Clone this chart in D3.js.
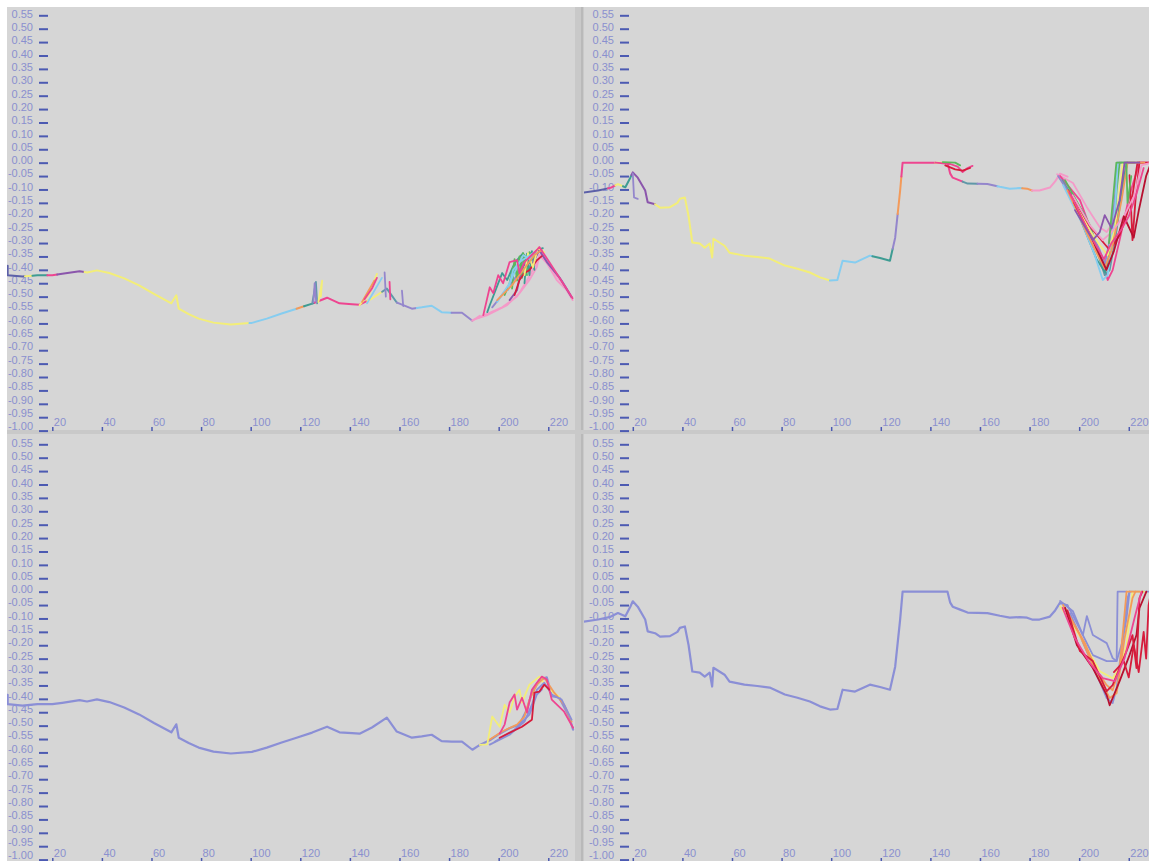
<!DOCTYPE html>
<html>
<head>
<meta charset="utf-8">
<script src="https://cdn.jsdelivr.net/npm/d3@7"></script>
<style>
  html, body { margin: 0; padding: 0; background: #ffffff; }
  svg { display: block; }
</style>
</head>
<body>
<script>
// ---------- axis ticks ----------
const xTicks = [20, 40, 60, 80, 100, 120, 140, 160, 180, 200, 220];
const yTicks = [0.55, 0.50, 0.45, 0.40, 0.35, 0.30, 0.25, 0.20, 0.15, 0.10, 0.05, 0.00,
  -0.05, -0.10, -0.15, -0.20, -0.25, -0.30, -0.35, -0.40, -0.45, -0.50, -0.55, -0.60,
  -0.65, -0.70, -0.75, -0.80, -0.85, -0.90, -0.95, -1.00];

// ---------- cluster ids and their colours ----------
const clusterIds = ["slate", "yellow", "teal", "pink", "purple", "cyan", "orange",
  "lavender", "rose", "green", "red", "steel", "blue", "crimson"];
const clusterColors = ["#5c60a8", "#f3ee78", "#3e9c93", "#ee4590", "#8b56ac", "#86cdf0", "#f39a5a",
  "#9486cc", "#f49ac8", "#5cb85c", "#d61c3c", "#5f98a8", "#8b8fd6", "#b81030"];

// ---------- left column: main trajectory ----------
const baseL = [[2,-0.385],[2,-0.42],[8,-0.425],[14,-0.42],[20,-0.42],[24,-0.415],[31,-0.405],[34,-0.41],
  [38,-0.402],[43,-0.412],[49,-0.432],[55,-0.458],[61,-0.49],[68,-0.525],[70,-0.495],[71,-0.545],
  [75,-0.565],[79,-0.582],[85,-0.597],[92,-0.604],[100.5,-0.598],[106.5,-0.582],[112.5,-0.563],
  [118.5,-0.545],[124.8,-0.526],[130.8,-0.504],[135.8,-0.525],[140.9,-0.528],[143.9,-0.53],
  [148.9,-0.507],[154.9,-0.47],[158.9,-0.522],[165,-0.545],[169,-0.54],[173,-0.534],[177,-0.558],
  [181,-0.56],[185.2,-0.56],[189.4,-0.59],[192.4,-0.572],[196.4,-0.555],[200.4,-0.53],[204.4,-0.51],
  [208.4,-0.496],[211.4,-0.44],[213.4,-0.377],[216.4,-0.33],[219.4,-0.32],[221.4,-0.39],[224.4,-0.395],
  [228.4,-0.466],[230,-0.515]];

// cluster membership along the left trajectory: [from x, to x, cluster]
const segL = [[0,9,"slate"],[9,12,"yellow"],[12,18,"teal"],[18,22,"pink"],[22,33,"purple"],
  [33,99.5,"yellow"],[99.5,118.5,"cyan"],[118.5,121.5,"orange"],[121.5,125.7,"teal"],[125.7,147,"pink"],
  [147,153,"yellow"],[153,159,"steel"],[159,167,"lavender"],[167,181,"cyan"],[181,189.4,"lavender"],
  [189.4,231,"rose"]];

// side branches of the left trajectory, per cluster
const branchTL = [
  ["steel", [[124.8,-0.526],[126.3,-0.445],[126.8,-0.525]]],
  ["yellow", [[127.3,-0.52],[128.8,-0.44],[128.3,-0.5]]],
  ["lavender", [[125.3,-0.52],[125.8,-0.45],[126.4,-0.52]]],
  ["yellow", [[143.9,-0.532],[147.9,-0.49],[150.9,-0.415]]],
  ["orange", [[144.9,-0.52],[149.9,-0.44]]],
  ["cyan", [[146.9,-0.525],[152.9,-0.43]]],
  ["pink", [[145.9,-0.51],[148.9,-0.47],[150.9,-0.43]]],
  ["lavender", [[154,-0.41],[154.5,-0.5]]],
  ["pink", [[156,-0.445],[156.3,-0.51]]],
  ["lavender", [[161,-0.478],[161.5,-0.535]]],
  ["rose", [[189.4,-0.588],[195.4,-0.569],[203.4,-0.532],[208.4,-0.487],[212.4,-0.438],[215.4,-0.39],
    [216.4,-0.345],[219.4,-0.375],[223.4,-0.438],[227.4,-0.476],[229.8,-0.513]]],
  ["rose", [[191.4,-0.58],[201.4,-0.54],[207.4,-0.5],[211.4,-0.44],[214.4,-0.39],[217.4,-0.34],
    [221.4,-0.4],[227.4,-0.47]]],
  ["lavender", [[197.4,-0.54],[203.4,-0.47],[207.4,-0.42],[210.4,-0.36],[213.4,-0.35],[216.4,-0.33],
    [220.4,-0.38],[225.4,-0.44],[229.4,-0.5]]],
  ["teal", [[195.4,-0.558],[196.4,-0.532],[201.4,-0.412],[203.4,-0.438],[206.4,-0.375],[209.8,-0.338],
    [212.4,-0.375],[215.4,-0.326],[217.8,-0.319]]],
  ["green", [[202.4,-0.494],[204.4,-0.45],[205.8,-0.39],[208.4,-0.427],[209.8,-0.338],[211.4,-0.401],
    [212.4,-0.334],[214.4,-0.356],[216.4,-0.326]]],
  ["green", [[205.4,-0.47],[206.4,-0.36],[207.4,-0.44],[208.4,-0.35],[209.4,-0.43],[210.4,-0.345],[211.4,-0.42]]],
  ["teal", [[210.4,-0.45],[211.4,-0.34],[212.4,-0.42],[213.4,-0.33],[214.4,-0.4]]],
  ["purple", [[204.4,-0.513],[207.4,-0.476],[209.4,-0.39],[211.4,-0.371],[213.8,-0.375],[216.4,-0.326],
    [219.4,-0.371],[224.4,-0.427],[229.4,-0.502]]],
  ["red", [[206.4,-0.494],[208.4,-0.438],[210.4,-0.412],[212.4,-0.401],[215.4,-0.364],[217.4,-0.349]]],
  ["yellow", [[210.4,-0.42],[211.8,-0.338],[213.8,-0.39],[215.8,-0.319],[218.4,-0.334]]],
  ["cyan", [[203.8,-0.476],[205.8,-0.401],[208.4,-0.371],[211.4,-0.353],[214.4,-0.334]]],
  ["cyan", [[199.4,-0.52],[204.4,-0.45],[207.4,-0.39],[209.9,-0.345],[212.4,-0.36],[215.4,-0.335]]],
  ["orange", [[199.4,-0.513],[205.4,-0.457],[210.4,-0.394],[214.4,-0.345],[217.4,-0.326]]],
  ["pink", [[193.8,-0.569],[196.4,-0.465],[197.8,-0.487],[199.8,-0.42],[201.8,-0.45],[204.4,-0.371],
    [207.4,-0.364],[208.4,-0.412],[210.4,-0.371],[212.4,-0.353],[215.4,-0.326],[216.4,-0.315],
    [220.4,-0.371],[226.4,-0.457],[229.8,-0.506]]]
];

const branchBL = [
  ["yellow", [[192.4,-0.572],[195.4,-0.57],[197.4,-0.466],[200.4,-0.504],[202.4,-0.422],[204.4,-0.451],
    [206.4,-0.392],[208.4,-0.366],[209.4,-0.414],[212.4,-0.347],[216.4,-0.317],[219.4,-0.358],[224.4,-0.392]]],
  ["orange", [[196.4,-0.552],[201.4,-0.522],[207.4,-0.496],[210.4,-0.466],[212.4,-0.403],[215.4,-0.347],
    [218.4,-0.321],[222.4,-0.377],[226.4,-0.422],[229.4,-0.485]]],
  ["blue", [[196.4,-0.571],[204.4,-0.534],[210.4,-0.485],[213.4,-0.422],[215.4,-0.366],[218.4,-0.34],
    [221.4,-0.384],[225.4,-0.403],[229.4,-0.478]]],
  ["blue", [[198.4,-0.56],[206.4,-0.515],[212.4,-0.459],[215.4,-0.384],[217.4,-0.366]]],
  ["pink", [[200.4,-0.53],[202.4,-0.496],[204.4,-0.414],[206.4,-0.384],[207.4,-0.44],[209.4,-0.396],
    [211.4,-0.451],[213.4,-0.366],[215.4,-0.34],[217.4,-0.317],[219.4,-0.328],[221.4,-0.403],
    [226.4,-0.448],[230,-0.508]]],
  ["red", [[200.4,-0.545],[209.4,-0.504],[213.4,-0.478],[214.4,-0.377],[216.4,-0.373],[218.4,-0.347],[220.4,-0.366]]]
];

// ---------- right column: main trajectory ----------
const baseR = [[0,-0.112],[6,-0.104],[11,-0.094],[14,-0.08],[17,-0.092],[19,-0.056],[20,-0.036],[22,-0.056],
  [25,-0.104],[26,-0.148],[29,-0.155],[31,-0.168],[35,-0.166],[38,-0.15],[39,-0.135],[41,-0.13],
  [42.5,-0.2],[44,-0.298],[47,-0.302],[49,-0.317],[51,-0.302],[52,-0.354],[52.5,-0.284],[57,-0.31],
  [59,-0.336],[65,-0.347],[70.2,-0.352],[75.2,-0.358],[81.3,-0.384],[86.4,-0.396],[91.4,-0.41],
  [95.5,-0.428],[99.5,-0.44],[102.5,-0.438],[104.6,-0.366],[109.6,-0.373],[115.6,-0.347],[119.7,-0.356],
  [123.7,-0.366],[125.8,-0.28],[127.8,-0.104],[128.8,0],[140.9,0],[146.9,0],[148,-0.041],[149,-0.056],
  [152,-0.067],[155,-0.078],[163,-0.08],[168,-0.09],[172,-0.097],[176,-0.095],[179,-0.097],[181,-0.104],
  [184,-0.104],[188.2,-0.093],[190.3,-0.07],[192.3,-0.041],[195.3,-0.052]];

const segR = [[0,10,"slate"],[10,13,"pink"],[13,16,"yellow"],[16,19.5,"teal"],[19.5,29,"purple"],
  [29,99.5,"yellow"],[99.5,116.6,"cyan"],[116.6,124.8,"teal"],[124.8,126.8,"lavender"],[126.8,128.3,"orange"],
  [128.3,142,"pink"],[142,147,"yellow"],[147,153,"pink"],[153,159,"steel"],[159,167,"lavender"],
  [167,177,"cyan"],[177,181,"orange"],[181,196,"rose"]];

const branchTR = [
  ["lavender", [[20,-0.04],[20.5,-0.13],[22,-0.135]]],
  ["pink", [[142,0],[148,-0.005],[151,-0.015],[153,-0.035],[155,-0.02],[157,-0.012]]],
  ["red", [[146,-0.01],[150,-0.025],[153,-0.03],[156,-0.02]]],
  ["green", [[145,0.002],[150,0],[152,-0.01]]],
  ["rose", [[191.1,-0.043],[197.5,-0.076],[203.1,-0.166],[208.3,-0.241],[211.1,-0.259],[215.1,-0.203],
    [217.5,-0.102],[219.1,0],[229,0]]],
  ["pink", [[192.3,-0.05],[200.3,-0.14],[206.3,-0.29],[209.5,-0.371],[211.5,-0.438],[213.5,-0.401],
    [216.3,-0.289],[220.3,-0.121],[224.3,0],[229,0]]],
  ["steel", [[193.1,-0.065],[202.3,-0.196],[207.1,-0.326],[210.3,-0.42],[212.3,-0.401],[215.1,-0.252],
    [217.5,-0.084],[219.1,0],[224.3,0]]],
  ["green", [[194.3,-0.065],[204.3,-0.233],[208.3,-0.345],[211.1,-0.382],[213.5,-0.289],[215.1,-0.103],
    [216.3,0],[222.3,0]]],
  ["lavender", [[191.5,-0.05],[200.3,-0.177],[205.5,-0.27],[208.3,-0.326],[210.3,-0.382],[212.3,-0.289],
    [214.3,-0.14],[215.5,0],[220.3,0]]],
  ["teal", [[200,-0.2],[207,-0.36],[210.5,-0.41],[213,-0.32],[216,-0.17],[218,-0.06],[219.5,0]]],
  ["red", [[195.5,-0.103],[202.3,-0.215],[208.3,-0.282],[212.3,-0.326],[216.3,-0.271],[219.1,-0.196],
    [221.5,-0.121],[223.5,0],[229,0]]],
  ["red", [[220.3,-0.047],[221.5,-0.289],[222.7,-0.14],[224.3,0]]],
  ["cyan", [[193.5,-0.084],[201.5,-0.233],[206.3,-0.345],[209.5,-0.438],[211.5,-0.42],[213.1,-0.308],
    [214.7,-0.14],[215.5,0]]],
  ["yellow", [[196.3,-0.121],[204.3,-0.252],[208.3,-0.308],[211.5,-0.345],[214.3,-0.252],[216.3,-0.103],[217.5,0]]],
  ["orange", [[195.3,-0.103],[203.5,-0.271],[207.5,-0.345],[210.3,-0.394],[213.1,-0.326],[217.1,-0.14],
    [219.5,0],[226.3,0]]],
  ["rose", [[197.3,-0.121],[204.3,-0.233],[209.5,-0.289],[213.1,-0.259],[218.3,-0.196],[222.3,-0.121],
    [225.1,-0.01],[229,0]]],
  ["crimson", [[198,-0.15],[206,-0.3],[211,-0.4],[214,-0.33],[218,-0.2],[222,-0.28],[224,-0.18],[227,-0.05],[229,0]]],
  ["pink", [[196,-0.11],[205,-0.28],[210,-0.36],[213,-0.3],[217,-0.25],[220,-0.2],[223,-0.12],[226,-0.02]]],
  ["green", [[212,-0.3],[214,-0.1],[215,0],[219,0],[219.5,-0.15],[221,-0.05]]],
  ["purple", [[198.3,-0.177],[205.5,-0.289],[208.3,-0.259],[210.3,-0.196],[213.1,-0.245],[216.3,-0.14],
    [218.3,0],[224.3,0]]]
];

const branchBR = [
  ["blue", [[192.3,-0.035],[197.5,-0.073],[201.5,-0.162],[203.1,-0.091],[205.5,-0.162],[211.1,-0.192],
    [213.5,-0.248],[215.1,-0.259],[217.5,-0.185],[219.1,-0.099],[220.3,0],[229,0]]],
  ["blue", [[195.1,-0.05],[197.5,-0.088],[205.5,-0.237],[211.1,-0.259],[215.1,-0.259],[215.5,0],[219.1,0]]],
  ["blue", [[196.3,-0.08],[204.3,-0.248],[211.1,-0.397],[213.5,-0.416],[215.1,-0.36],[217.1,-0.211],
    [219.5,-0.024],[220.3,0]]],
  ["yellow", [[192.3,-0.054],[197.5,-0.125],[203.1,-0.211],[208.3,-0.297],[213.5,-0.323],[216.3,-0.285],
    [219.1,-0.2],[221.5,0],[226.3,0]]],
  ["orange", [[193.5,-0.05],[200.3,-0.162],[205.5,-0.274],[211.1,-0.349],[213.5,-0.368],[216.3,-0.285],
    [219.1,0],[224.3,0]]],
  ["orange", [[194.3,-0.062],[202.3,-0.192],[208.3,-0.323],[212.3,-0.397],[215.1,-0.379],[218.3,-0.174],
    [221.5,-0.024],[222.7,0]]],
  ["crimson", [[194.3,-0.06],[199.1,-0.2],[205.5,-0.285],[211.1,-0.386],[212.3,-0.424],[216.3,-0.334],
    [220.3,-0.237],[223.1,-0.162],[224.3,-0.062],[227.1,0]]],
  ["red", [[195.3,-0.07],[200.3,-0.222],[205.5,-0.259],[211.1,-0.371],[213.5,-0.349],[219.1,-0.222],
    [221.5,-0.162],[223.1,-0.285],[224.3,-0.024],[225.5,0]]],
  ["red", [[214,-0.3],[218,-0.26],[220,-0.32],[222,-0.2],[224,-0.3],[226,-0.15],[227,-0.25],[228,-0.05],[229,0]]],
  ["pink", [[193.3,-0.06],[198.3,-0.174],[204.3,-0.267],[209.5,-0.323],[214.3,-0.334],[218.3,-0.248],
    [222.3,-0.099],[225.1,0]]]
];

// ---------- drawing ----------
const W = 1149, H = 861;
const color = d3.scaleOrdinal().domain(clusterIds).range(clusterColors);

const svg = d3.select("body").append("svg").attr("width", W).attr("height", H);
svg.append("rect").attr("width", W).attr("height", H).attr("fill", "#ffffff");
svg.append("rect").attr("x", 7).attr("y", 7).attr("width", W - 7).attr("height", H - 7).attr("fill", "#d6d6d6");

// separators between the four panels
svg.append("rect").attr("x", 575).attr("y", 7).attr("width", 9).attr("height", H - 7).attr("fill", "#c9c9c9");
svg.append("rect").attr("x", 581).attr("y", 7).attr("width", 2).attr("height", H - 7).attr("fill", "#b9b9b9");
svg.append("rect").attr("x", 7).attr("y", 430).attr("width", W - 7).attr("height", 4).attr("fill", "#c9c9c9");

// panel frames: x offset, y offset of the value scale, x-axis baseline, clip box
const panels = {
  TL: { ox: 0,     oy: 0,   ay: 427, cx0: 7,   cx1: 575,  cy0: 7,   cy1: 430 },
  TR: { ox: 580.5, oy: 0,   ay: 427, cx0: 584, cx1: 1149, cy0: 7,   cy1: 430 },
  BL: { ox: 0,     oy: 429, ay: 858, cx0: 7,   cx1: 575,  cy0: 434, cy1: 861 },
  BR: { ox: 580.5, oy: 429, ay: 858, cx0: 584, cx1: 1149, cy0: 434, cy1: 861 }
};

const fmt = v => (Math.abs(v) < 1e-9 ? 0 : v).toFixed(2);

// part of a polyline between two x positions (cut points found on the polyline itself)
function sliceLine(pts, x0, x1) {
  const out = [];
  for (let i = 0; i < pts.length; i++) {
    const p = pts[i], q = pts[i + 1];
    if (p[0] >= x0 && p[0] <= x1) out.push(p);
    if (q) {
      for (const xb of [x0, x1]) {
        if (p[0] < xb && q[0] > xb) {
          const t = (xb - p[0]) / (q[0] - p[0]);
          out.push([xb, p[1] + t * (q[1] - p[1])]);
        }
      }
    }
  }
  return out;
}

function setupPanel(key) {
  const p = panels[key];
  const x = d3.scaleLinear().domain([0, 229]).range([2.7 + p.ox, 570.6 + p.ox]);
  const y = d3.scaleLinear().domain([0.55, -1.0]).range([15.3 + p.oy, 430.6 + p.oy]);

  const clipId = "clip" + key;
  svg.append("clipPath").attr("id", clipId).append("rect")
    .attr("x", p.cx0).attr("y", p.cy0).attr("width", p.cx1 - p.cx0).attr("height", p.cy1 - p.cy0);

  // y axis: short dashes with labels to their left (labels sit a little above their dash,
  // a bit more so towards the bottom of the column)
  const ya = svg.append("g").attr("transform", `translate(${48 + Math.round(p.ox)},0)`)
    .call(d3.axisLeft(y).tickValues(yTicks).tickSize(9).tickPadding(6).tickFormat(fmt));
  ya.select(".domain").remove();
  ya.selectAll(".tick line").attr("stroke", "#4c5ab2").attr("stroke-width", 2);
  ya.selectAll(".tick text").attr("fill", "#8a90cf")
    .attr("dy", d => (2 - 3 * (0.55 - d) / 1.55).toFixed(2) + "px")
    .style("font", "11px 'Liberation Sans', Arial, sans-serif");

  // x axis: small ticks, labels sitting just right of each tick
  const xa = svg.append("g").attr("transform", `translate(0,${p.ay})`)
    .call(d3.axisBottom(x).tickValues(xTicks).tickSize(4).tickFormat(d3.format("d")));
  xa.select(".domain").remove();
  xa.selectAll(".tick line").attr("stroke", "#4c5ab2").attr("stroke-width", 1.5);
  xa.selectAll(".tick text").attr("fill", "#8a90cf").attr("text-anchor", "start")
    .attr("x", 1).attr("y", -1.5).attr("dy", 0)
    .style("font", "11px 'Liberation Sans', Arial, sans-serif");

  const layer = svg.append("g").attr("clip-path", `url(#${clipId})`)
    .attr("fill", "none").attr("stroke-width", 2)
    .attr("stroke-linejoin", "round").attr("stroke-linecap", "round");
  const line = d3.line().x(d => x(d[0])).y(d => y(d[1]));
  return { layer, line };
}

function drawSegments(layer, line, base, segs) {
  segs.forEach(([x0, x1, c]) => {
    layer.append("path").attr("d", line(sliceLine(base, x0, x1))).attr("stroke", color(c));
  });
}
function drawBranches(layer, line, branches, width) {
  branches.forEach(([c, pts]) => {
    layer.append("path").attr("d", line(pts)).attr("stroke", color(c)).attr("stroke-width", width);
  });
}

// top left: trajectory coloured by cluster, with its side branches
{
  const { layer, line } = setupPanel("TL");
  drawSegments(layer, line, baseL.filter(d => d[0] <= 192.4), segL);
  drawBranches(layer, line, branchTL, 1.8);
}
// top right
{
  const { layer, line } = setupPanel("TR");
  drawSegments(layer, line, baseR, segR);
  drawBranches(layer, line, branchTR, 1.8);
}
// bottom left: single trajectory plus coloured endings
{
  const { layer, line } = setupPanel("BL");
  layer.append("path").attr("d", line(baseL)).attr("stroke", color("blue")).attr("stroke-width", 2.2);
  drawBranches(layer, line, branchBL, 1.8);
}
// bottom right
{
  const { layer, line } = setupPanel("BR");
  layer.append("path").attr("d", line(baseR)).attr("stroke", color("blue")).attr("stroke-width", 2.2);
  drawBranches(layer, line, branchBR, 1.8);
}
</script>
</body>
</html>
